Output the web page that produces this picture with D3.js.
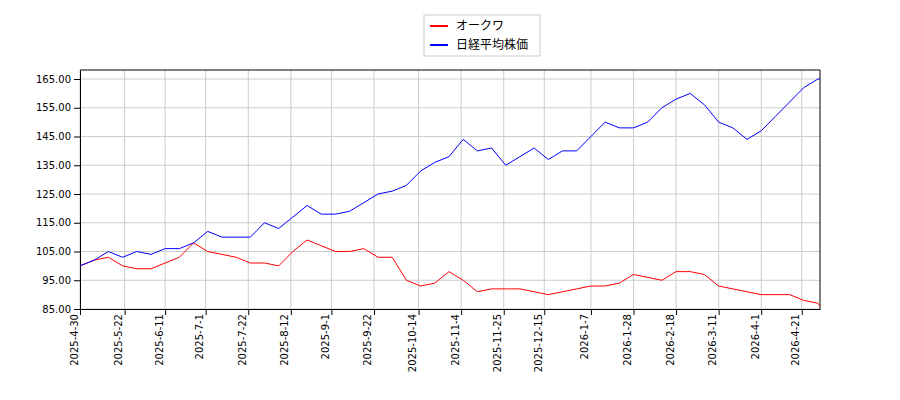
<!DOCTYPE html>
<html><head><meta charset="utf-8">
<script src="https://cdn.jsdelivr.net/npm/d3@7"></script>
<style>body{margin:0;background:#fff}text{font-family:"DejaVu Sans",sans-serif}</style>
</head><body><svg id="c" width="900" height="400"></svg>
<script>
// weekly samples, starting 2025-04-30
const startDate = "2025-04-30";
const okuwa = [100,102,103,100,99,99,101,103,108,105,104,103,101,101,100,105,109,107,105,105,106,103,103,95,93,94,98,95,91,92,92,92,91,90,91,92,93,93,94,97,96,95,98,98,97,93,92,91,90,90,90,88,87,86];
const nikkei = [100,102,105,103,105,104,106,106,108,112,110,110,110,115,113,117,121,118,118,119,122,125,126,128,133,136,138,144,140,141,135,138,141,137,140,140,145,150,148,148,150,155,158,160,156,150,148,144,147,152,157,162,165,165];
const xTicks = ["2025-4-30","2025-5-22","2025-6-11","2025-7-1","2025-7-22","2025-8-12","2025-9-1","2025-9-22","2025-10-14","2025-11-4","2025-11-25","2025-12-15","2026-1-7","2026-1-28","2026-2-18","2026-3-11","2026-4-1","2026-4-21"];
const yTicks = d3.range(85, 166, 10);
const names = ["オークワ", "日経平均株価"];
const colors = ["#ff0000", "#0000ff"];

const svg = d3.select("#c");
const m = {l: 80, r: 820, t: 70, b: 309};
const parse = d3.timeParse("%Y-%m-%d");
const t0 = parse(startDate);
const dates = okuwa.map((d, i) => d3.timeDay.offset(t0, 7 * i));
dates[dates.length - 1] = parse("2026-04-30");

const x = d3.scaleTime().domain([t0, parse("2026-04-30")]).range([m.l, m.r]);
const y = d3.scaleLinear().domain([85, 85 + (m.b - m.t) / 2.875]).range([m.b, m.t]);

const g = svg.append("g");
xTicks.forEach(s => {
  const xx = x(parse(s.replace(/-(\d)(?=-|$)/g, "-0$1")));
  g.append("line").attr("x1", xx).attr("x2", xx).attr("y1", m.t).attr("y2", m.b).attr("stroke", "#ccc");
});
yTicks.forEach(v => {
  g.append("line").attr("x1", m.l).attr("x2", m.r).attr("y1", y(v)).attr("y2", y(v)).attr("stroke", "#ccc");
});

const xa = svg.append("g").attr("transform", `translate(0,${m.b})`)
  .call(d3.axisBottom(x).tickValues(xTicks.map(s => parse(s.replace(/-(\d)(?=-|$)/g, "-0$1"))))
    .tickFormat((d, i) => xTicks[i]).tickSizeOuter(0));
xa.selectAll("text").attr("transform", "rotate(-90)").attr("text-anchor", "end")
  .attr("x", -5).attr("y", -3).attr("dy", 0).style("font-size", "10px");
const ya = svg.append("g").attr("transform", `translate(${m.l},0)`)
  .call(d3.axisLeft(y).tickValues(yTicks).tickFormat(d3.format(".2f")).tickSizeOuter(0));
ya.selectAll("text").style("font-size", "10px");
svg.selectAll(".domain").attr("stroke", "#000");
svg.append("line").attr("x1", m.r).attr("x2", m.r).attr("y1", m.t).attr("y2", m.b).attr("stroke", "#000");
svg.append("line").attr("x1", m.l).attr("x2", m.r).attr("y1", m.t).attr("y2", m.t).attr("stroke", "#000");

const line = d3.line().x((d, i) => x(dates[i])).y(d => y(d));
[okuwa, nikkei].forEach((s, k) => {
  svg.append("path").attr("d", line(s)).attr("fill", "none").attr("stroke", colors[k]).attr("stroke-width", 1);
});

const lg = svg.append("g").attr("transform", "translate(424,15)");
lg.append("rect").attr("width", 116).attr("height", 41).attr("fill", "#fff").attr("stroke", "#ccc");
names.forEach((n, i) => {
  lg.append("line").attr("x1", 6).attr("x2", 24).attr("y1", 11 + i * 19).attr("y2", 11 + i * 19).attr("stroke", colors[i]).attr("stroke-width", 2);
  lg.append("text").attr("x", 32).attr("y", 15 + i * 19).text(n).style("font-size", "12px").style("font-family", "'Noto Sans CJK JP'");
});
</script></body></html>
